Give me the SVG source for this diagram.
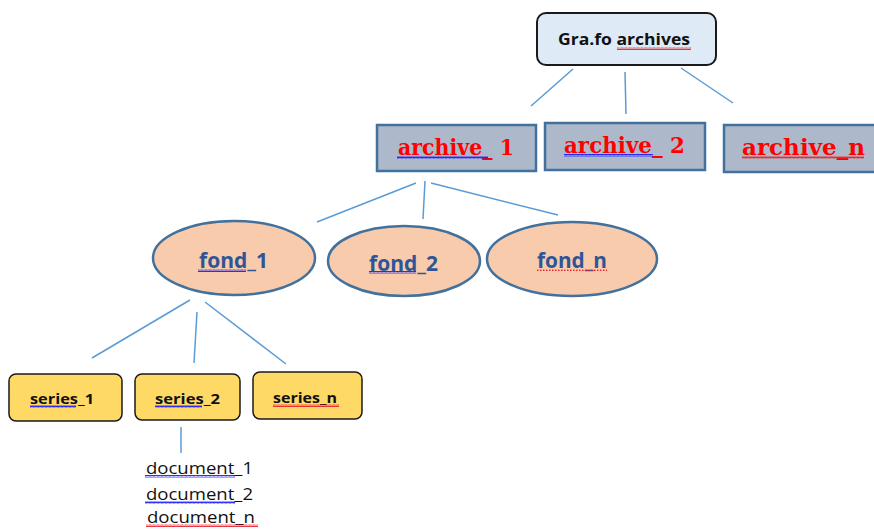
<svg xmlns="http://www.w3.org/2000/svg" width="874" height="529" viewBox="0 0 874 529">
<defs>
<pattern id="wb" width="4" height="3" patternUnits="userSpaceOnUse"><path d="M0,2.5 L1,0.5 L2,2.5 L3,0.5 L4,2.5" fill="none" stroke="#1a1aff" stroke-width="0.9"/></pattern>
<pattern id="wr" width="4" height="3" patternUnits="userSpaceOnUse"><path d="M0,2.5 L1,0.5 L2,2.5 L3,0.5 L4,2.5" fill="none" stroke="#e8202a" stroke-width="0.9"/></pattern>
<pattern id="dr" width="3" height="2" patternUnits="userSpaceOnUse"><rect x="0" y="0" width="1.5" height="1.4" fill="#e8202a"/></pattern>
</defs>
<style>
.conn line{stroke:#5b9bd5;stroke-width:1.5;fill:none}
.root{fill:#deeaf6;stroke:#1a1a1a;stroke-width:2}
.arch{fill:#adb9ca;stroke:#41719c;stroke-width:2.5}
.fond{fill:#f8cbad;stroke:#41719c;stroke-width:2.5}
.ser{fill:#ffd966;stroke:#1a1a1a;stroke-width:1.5}
.t-root{font-family:"Open Sans","Liberation Sans",sans-serif;font-weight:bold;font-size:16px;fill:#111}
.t-arch{font-family:"DejaVu Serif","Liberation Serif",serif;font-weight:bold;font-size:22px;fill:#ff0000}
.t-fond{font-family:"Open Sans","Liberation Sans",sans-serif;font-weight:bold;font-size:21px;fill:#2f5597}
.t-ser{font-family:"Open Sans","Liberation Sans",sans-serif;font-weight:bold;font-size:14px;fill:#111}
.t-doc{font-family:"Open Sans","Liberation Sans",sans-serif;font-size:16.5px;fill:#111}
.us{stroke:#e8202a;stroke-width:1.3}
</style>
<g class="conn" id="connectors">
<line x1="573" y1="69" x2="531" y2="106"/>
<line x1="625" y1="72" x2="626" y2="114"/>
<line x1="681" y1="68" x2="733" y2="103"/>
<line x1="416" y1="183" x2="317" y2="222"/>
<line x1="425" y1="181" x2="423" y2="219"/>
<line x1="431" y1="183" x2="558" y2="215"/>
<line x1="190" y1="300" x2="92" y2="358"/>
<line x1="197" y1="312" x2="194" y2="363"/>
<line x1="205" y1="302" x2="286" y2="364"/>
<line x1="181" y1="427" x2="181" y2="453"/>
</g>
<g id="root">
<rect class="root" x="537" y="13" width="179" height="52" rx="9"/>
<text class="t-root" x="558" y="45" textLength="132" lengthAdjust="spacingAndGlyphs">Gra.fo archives</text>
<rect x="617" y="47" width="74" height="3" fill="url(#wr)"/>
</g>
<g id="archive_1">
<rect class="arch" x="377" y="125" width="159" height="46"/>
<text class="t-arch" x="398" y="155" textLength="116" lengthAdjust="spacingAndGlyphs">archive_ 1</text>
<rect x="397" y="156" width="91" height="3" fill="url(#wb)"/>
</g>
<g id="archive_2">
<rect class="arch" x="545" y="123" width="160" height="47"/>
<text class="t-arch" x="564" y="153" textLength="121" lengthAdjust="spacingAndGlyphs">archive_ 2</text>
<rect x="564" y="154" width="89" height="3" fill="url(#wb)"/>
</g>
<g id="archive_n">
<rect class="arch" x="724" y="125" width="156" height="47"/>
<text class="t-arch" x="742" y="155" textLength="123" lengthAdjust="spacingAndGlyphs">archive_n</text>
<rect x="742" y="156" width="122" height="3" fill="url(#wr)"/>
</g>
<g id="fond_1">
<ellipse class="fond" cx="234" cy="258" rx="81" ry="37"/>
<text class="t-fond" x="199" y="268" textLength="69" lengthAdjust="spacingAndGlyphs">fond_1</text>
<rect x="198" y="269" width="48" height="3" fill="url(#wb)"/>
</g>
<g id="fond_2">
<ellipse class="fond" cx="404" cy="261" rx="76" ry="35"/>
<text class="t-fond" x="369" y="271" textLength="69" lengthAdjust="spacingAndGlyphs">fond_2</text>
<rect x="369" y="271" width="47" height="3" fill="url(#wb)"/>
</g>
<g id="fond_n">
<ellipse class="fond" cx="572" cy="259" rx="85" ry="37"/>
<text class="t-fond" x="537" y="268" textLength="70" lengthAdjust="spacingAndGlyphs">fond_n</text>
<rect x="536" y="269" width="71" height="2" fill="url(#dr)"/>
</g>
<g id="series_1">
<rect class="ser" x="9" y="374" width="113" height="47" rx="7"/>
<text class="t-ser" x="30" y="404" textLength="64" lengthAdjust="spacingAndGlyphs">series_1</text>
<rect x="30" y="405" width="46" height="3" fill="url(#wb)"/>
</g>
<g id="series_2">
<rect class="ser" x="135" y="374" width="105" height="46" rx="7"/>
<text class="t-ser" x="155" y="404" textLength="65" lengthAdjust="spacingAndGlyphs">series_2</text>
<rect x="155" y="405" width="47" height="3" fill="url(#wb)"/>
</g>
<g id="series_n">
<rect class="ser" x="253" y="372" width="109" height="47" rx="7"/>
<text class="t-ser" x="273" y="403" textLength="64" lengthAdjust="spacingAndGlyphs">series_n</text>
<rect x="273" y="404" width="66" height="3" fill="url(#wr)"/>
</g>
<g id="documents">
<text class="t-doc" x="146" y="474" textLength="107" lengthAdjust="spacingAndGlyphs">document_1</text>
<rect x="145" y="475" width="90" height="3" fill="url(#wb)"/>
<text class="t-doc" x="146" y="500" textLength="107" lengthAdjust="spacingAndGlyphs">document_2</text>
<rect x="145" y="501" width="90" height="3" fill="url(#wb)"/>
<text class="t-doc" x="147" y="523" textLength="108" lengthAdjust="spacingAndGlyphs">document_n</text>
<rect x="146" y="524" width="112" height="3" fill="url(#wr)"/>
</g>
</svg>
